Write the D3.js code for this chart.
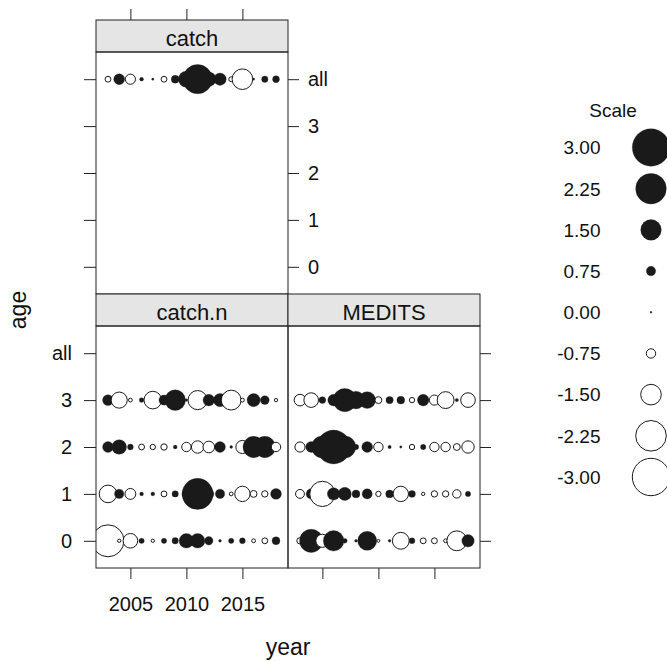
<!DOCTYPE html>
<html>
<head>
<meta charset="utf-8">
<script src="https://cdn.jsdelivr.net/npm/d3@7"></script>
<style>
  body { margin: 0; background: #fff; }
  text { font-family: "Liberation Sans", Arial, sans-serif; fill: #111; }
</style>
</head>
<body>
<svg id="chart" width="667" height="661"></svg>
<script>
// Residuals by year and age for each data source
const years = [2003, 2004, 2005, 2006, 2007, 2008, 2009, 2010, 2011, 2012, 2013, 2014, 2015, 2016, 2017, 2018];
const ageLevels = ["0", "1", "2", "3", "all"];
const yearTicks = [2005, 2010, 2015];
const scaleLevels = [3.00, 2.25, 1.50, 0.75, 0.00, -0.75, -1.50, -2.25, -3.00];

const catchAll = [-0.4, 0.85, -0.8, 0.2, 0.05, -0.4, 0.6, 1.2, 2.15, 1.1, 0.95, -0.3, -1.5, 0.05, 0.45, 0.5];

const catchN0 = [-2.4, -0.15, -1.1, 0.35, -0.15, 0.35, 0.45, 1.1, 1.1, 0.65, 0.1, 0.35, 0.4, -0.2, -0.4, 0.6];
const catchN1 = [-1.3, 0.75, -0.85, 0.2, 0.2, -0.4, 0.45, 0.7, 2.3, 0.8, 0.75, -0.2, -1.15, -0.5, -0.45, 0.85];
const catchN2 = [0.85, 1.1, 0.4, -0.4, -0.35, -0.45, 0.2, -0.75, -0.95, -0.9, 0.85, 0.1, -1.0, 1.55, 1.55, -0.75];
const catchN3 = [0.85, -1.2, -0.2, 0.3, -1.3, 0.8, 1.5, 0.1, -1.4, 0.9, 1.0, -1.45, -0.2, 1.0, 0.7, -0.15];

const medits0 = [-0.45, 1.7, -1.0, 1.5, 0.3, 0.1, 1.4, -0.1, 0.1, -1.25, 0.4, -0.4, -0.4, -0.2, -1.45, 0.95];
const medits1 = [-0.7, 0.8, -1.85, 0.95, 1.0, 0.6, 0.8, -0.35, 0.6, -1.15, 0.5, -0.15, -0.45, -0.45, -0.65, 0.35];
const medits2 = [-0.8, 0.85, 1.6, 2.6, 1.6, 0.35, 0.85, -0.75, 0.15, 0.05, -0.35, 0.35, -0.75, -0.75, -0.5, -0.95];
const medits3 = [-0.9, -1.1, 0.5, 0.9, 1.7, 1.3, 1.25, -0.5, 0.55, 0.6, -0.35, 0.9, -0.8, -1.25, 0.15, -1.1];

const panels = [
  { name: "catch", col: 0, row: 0, series: [
      { age: "all", values: catchAll } ] },
  { name: "catch.n", col: 0, row: 1, series: [
      { age: "0", values: catchN0 }, { age: "1", values: catchN1 },
      { age: "2", values: catchN2 }, { age: "3", values: catchN3 } ] },
  { name: "MEDITS", col: 1, row: 1, series: [
      { age: "0", values: medits0 }, { age: "1", values: medits1 },
      { age: "2", values: medits2 }, { age: "3", values: medits3 } ] }
];

// Layout of the trellis
const colLeft = [96, 288];
const panelW = 192;
const stripTop = [20, 294];
const stripH = 32;
const panelH = 242;
const tickLen = 11;
const ink = "#222";
const dark = "#1a1a1a";
const labelSize = 20;

const svg = d3.select("#chart");

// Bubble radius from the absolute residual
const rScale = d3.scaleLinear()
  .domain([0, 0.75, 1.5, 2.25, 3])
  .range([0.9, 4.7, 10.3, 15.3, 18.7])
  .clamp(true);

function xScaleFor(col) {
  return d3.scaleLinear().domain([2001.93, 2019.07]).range([colLeft[col], colLeft[col] + panelW]);
}
function yScaleFor(row) {
  const top = stripTop[row] + stripH;
  return d3.scalePoint().domain(ageLevels).range([top + panelH, top]).padding(0.58);
}

function styleAxis(g) {
  g.select(".domain").remove();
  g.selectAll(".tick line").attr("stroke", ink);
  g.selectAll(".tick text")
    .attr("fill", "#111")
    .style("font-size", labelSize + "px")
    .style("font-family", "'Liberation Sans', Arial, sans-serif");
}

const defs = svg.append("defs");

panels.forEach((p, i) => {
  const x = xScaleFor(p.col);
  const y = yScaleFor(p.row);
  const x0 = colLeft[p.col];
  const sTop = stripTop[p.row];
  const pTop = sTop + stripH;

  // strip
  svg.append("rect")
    .attr("x", x0).attr("y", sTop).attr("width", panelW).attr("height", stripH)
    .attr("fill", "#e5e5e5").attr("stroke", ink).attr("stroke-width", 1);
  svg.append("text")
    .attr("x", x0 + panelW / 2).attr("y", sTop + 26)
    .attr("text-anchor", "middle")
    .style("font-size", "22px")
    .text(p.name);

  // bubbles, clipped to the panel
  defs.append("clipPath").attr("id", "clip" + i)
    .append("rect").attr("x", x0).attr("y", pTop).attr("width", panelW).attr("height", panelH);

  const pg = svg.append("g").attr("clip-path", `url(#clip${i})`);
  p.series.forEach(s => {
    pg.append("g").selectAll("circle")
      .data(years.map((yr, j) => ({ year: yr, value: s.values[j] })))
      .join("circle")
      .attr("cx", d => x(d.year))
      .attr("cy", y(s.age))
      .attr("r", d => rScale(Math.abs(d.value)))
      .attr("fill", d => d.value >= 0 ? dark : "#fff")
      .attr("stroke", dark)
      .attr("stroke-width", d => d.value >= 0 ? 0.3 : 1);
  });

  // panel border
  svg.append("rect")
    .attr("x", x0).attr("y", pTop).attr("width", panelW).attr("height", panelH)
    .attr("fill", "none").attr("stroke", ink).attr("stroke-width", 1);
});

// Axes
const xL = xScaleFor(0), xR = xScaleFor(1);
const yTop = yScaleFor(0), yBot = yScaleFor(1);
const bottomY = stripTop[1] + stripH + panelH;
const yearFmt = d3.format("d");

// top ticks above the catch panel
svg.append("g").attr("transform", `translate(0,${stripTop[0]})`)
  .call(d3.axisTop(xL).tickValues(yearTicks).tickSize(tickLen).tickFormat(""))
  .call(styleAxis);

// bottom axis with labels under catch.n
svg.append("g").attr("transform", `translate(0,${bottomY})`)
  .call(d3.axisBottom(xL).tickValues(yearTicks).tickSize(tickLen).tickPadding(18).tickFormat(yearFmt))
  .call(styleAxis);

// bottom ticks under MEDITS
svg.append("g").attr("transform", `translate(0,${bottomY})`)
  .call(d3.axisBottom(xR).tickValues(yearTicks).tickSize(tickLen).tickFormat(""))
  .call(styleAxis);

// catch panel: plain ticks on the left, labels on the right
svg.append("g").attr("transform", `translate(${colLeft[0]},0)`)
  .call(d3.axisLeft(yTop).tickSize(tickLen + 1).tickFormat(""))
  .call(styleAxis);
svg.append("g").attr("transform", `translate(${colLeft[0] + panelW},0)`)
  .call(d3.axisRight(yTop).tickSize(tickLen).tickPadding(9))
  .call(styleAxis);

// lower row: labels on the left, plain ticks on the right
svg.append("g").attr("transform", `translate(${colLeft[0]},0)`)
  .call(d3.axisLeft(yBot).tickSize(tickLen + 1).tickPadding(12))
  .call(styleAxis);
svg.append("g").attr("transform", `translate(${colLeft[1] + panelW},0)`)
  .call(d3.axisRight(yBot).tickSize(tickLen).tickFormat(""))
  .call(styleAxis);

// axis titles
svg.append("text")
  .attr("transform", "translate(26,310) rotate(-90)")
  .attr("text-anchor", "middle")
  .style("font-size", "23px")
  .text("age");
svg.append("text")
  .attr("x", 288).attr("y", 655)
  .attr("text-anchor", "middle")
  .style("font-size", "23px")
  .text("year");

// size legend
const legend = svg.append("g");
legend.append("text")
  .attr("x", 613).attr("y", 117)
  .attr("text-anchor", "middle")
  .style("font-size", "19px")
  .text("Scale");
const rowY = d3.scalePoint().domain(scaleLevels).range([147.5, 477]);
const fmt2 = d => d3.format(".2f")(d).replace("\u2212", "-");
const rows = legend.selectAll("g.row").data(scaleLevels).join("g")
  .attr("class", "row")
  .attr("transform", d => `translate(0,${rowY(d)})`);
rows.append("text")
  .attr("x", 600.5).attr("y", 0).attr("dy", "0.36em")
  .attr("text-anchor", "end")
  .style("font-size", "19px")
  .text(fmt2);
rows.append("circle")
  .attr("cx", 651).attr("cy", 0)
  .attr("r", d => rScale(Math.abs(d)))
  .attr("fill", d => d >= 0 ? dark : "#fff")
  .attr("stroke", dark)
  .attr("stroke-width", d => d >= 0 ? 0.3 : 1);
</script>
</body>
</html>
